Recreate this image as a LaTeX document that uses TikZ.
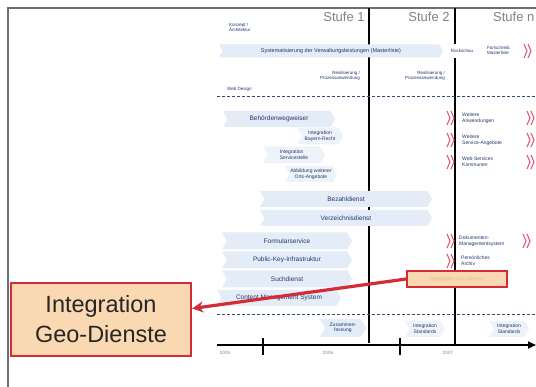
\documentclass[tikz,border=0pt]{standalone}
\usepackage{fontspec}
\setmainfont{Liberation Sans}
\usetikzlibrary{shapes.symbols,arrows.meta}
\definecolor{navy}{RGB}{35,55,110}
\definecolor{bandblue}{RGB}{228,236,247}
\definecolor{faintblue}{RGB}{238,243,250}
\definecolor{redline}{RGB}{210,45,55}
\definecolor{peach}{RGB}{250,217,178}
\definecolor{chevred}{RGB}{225,90,120}
\definecolor{framegray}{RGB}{110,110,110}
\definecolor{stufegray}{RGB}{130,130,130}
\definecolor{dashblue}{RGB}{60,75,115}
\definecolor{faintorange}{RGB}{235,185,130}
\tikzset{
  tx/.style={font=\fontsize{4.5}{5}\selectfont, text=navy, align=center, inner sep=0pt},
  txs/.style={font=\fontsize{5}{5.6}\selectfont, text=navy, align=left, inner sep=0pt},
  band/.style={signal, signal from=west, signal to=east, signal pointer angle=120,
     fill=bandblue, draw=none, text=navy, inner sep=0pt, align=center,
     font=\fontsize{6.5}{7}\selectfont},
  fband/.style={band, fill=faintblue, font=\fontsize{5}{5.6}\selectfont},
  stufe/.style={font=\fontsize{13}{13}\selectfont, text=stufegray, inner sep=0pt},
  vline/.style={line width=2.6pt, black},
  dashline/.style={dashed, dash pattern=on 3pt off 2pt, dashblue, line width=1pt},
  year/.style={font=\fontsize{4.5}{5}\selectfont, text=stufegray, inner sep=0pt},
  redchev/.pic={\draw[chevred, line width=1.1pt] (0,-7) -- (3,0) -- (0,7) (4,-7) -- (7,0) -- (4,7);}
}
\begin{document}
\begin{tikzpicture}[x=1pt,y=-1pt]
\clip (0,0) rectangle (536,387);
\fill[white] (0,0) rectangle (536,387);
% frame
\draw[framegray, line width=1.5pt] (8,387) -- (8,8) -- (536,8);
% headers
\node[stufe] (s1) at (344,17) {Stufe 1};
\node[stufe] (s2) at (429,17) {Stufe 2};
\node[stufe, anchor=west] (sn) at (493,17) {Stufe n};
% vertical stage lines
\coordinate (v1t) at (369,8);
\coordinate (v1b) at (369,343);
\coordinate (v2t) at (455,8);
\coordinate (v2b) at (455,345);
\draw[vline] (v1t) -- (v1b);
\draw[vline] (v2t) -- (v2b);
% dashed separators
\coordinate (d1a) at (217,97); \coordinate (d1b) at (536,97);
\coordinate (d2a) at (217,315); \coordinate (d2b) at (536,315);
\draw[dashline] (d1a) -- (d1b);
\draw[dashline] (d2a) -- (d2b);
% top part
\node[txs, font=\fontsize{4.5}{5}\selectfont, anchor=west] (konz) at (229,27) {Konzept /\\Architektur};
\node[band, minimum width=224pt, minimum height=13pt, font=\fontsize{5.5}{6}\selectfont] (sys) at (331,51) {Systematisierung der Verwaltungsleistungen (Masterliste)};
\node[tx, fill=white, minimum height=14pt, inner xsep=1pt] (rueck) at (462,51) {Rückschau};
\node[txs, font=\fontsize{4.5}{5}\selectfont, anchor=west] (fort) at (487,50) {Fortschreib.\\Masterliste};
\pic at (524,51) {redchev};
\node[tx, align=right] (real1) at (340,76) {Realisierung /\\Prozessanwendung};
\node[tx, align=right] (real2) at (425,76) {Realisierung /\\Prozessanwendung};
\node[txs, font=\fontsize{4.5}{5}\selectfont, anchor=west] (web) at (227,89) {Web Design};
% middle left
\node[band, minimum width=112pt, minimum height=16pt] (behoerde) at (279,119) {Behördenwegweiser};
\node[fband, minimum width=46pt, minimum height=17pt] (bayern) at (320,136) {Integration\\Bayern-Recht};
\node[fband, minimum width=62pt, minimum height=17pt, align=left] (servst) at (294,155) {Integration\\Servicestelle};
\node[fband, minimum width=52pt, minimum height=16pt] (abbild) at (311,174) {Abbildung weiterer\\Orts-Angebote};
\node[band, minimum width=172pt, minimum height=16pt] (bezahl) at (346,199) {Bezahldienst};
\node[band, minimum width=172pt, minimum height=16pt] (verz) at (346,218) {Verzeichnisdienst};
\node[band, minimum width=130pt, minimum height=17pt] (formular) at (287,241) {Formularservice};
\node[band, minimum width=130pt, minimum height=17pt] (pki) at (287,260) {Public-Key-Infrastruktur};
\node[band, minimum width=130pt, minimum height=17pt] (such) at (287,279) {Suchdienst};
\node[band, minimum width=124pt, minimum height=16pt] (cms) at (279,298) {Content Management System};
% right column
\node[txs, anchor=west] (wa) at (462,118) {Weitere\\Anwendungen};
\node[txs, anchor=west] (ws) at (462,140) {Weitere\\Service-Angebote};
\node[txs, anchor=west] (wk) at (462,162) {Web-Services\\Kommunen};
\node[txs, anchor=west] (dms) at (459,241) {Dokumenten-\\Managementsystem};
\node[txs, anchor=west] (arch) at (461,261) {Persönliches\\Archiv};
\pic at (447,118) {redchev};
\pic at (447,140) {redchev};
\pic at (447,162) {redchev};
\pic at (447,241) {redchev};
\pic at (447,261) {redchev};
\pic at (527,118) {redchev};
\pic at (527,140) {redchev};
\pic at (527,162) {redchev};
\pic at (523,241) {redchev};
% bottom row
\node[fband, fill=bandblue, minimum width=46pt, minimum height=18pt] (zus) at (343,328) {Zusammen-\\fassung};
\node[fband, minimum width=40pt, minimum height=16pt] (std1) at (425,329) {Integration\\Standards};
\node[fband, minimum width=40pt, minimum height=16pt] (std2) at (509,329) {Integration\\Standards};
% time axis
\coordinate (axa) at (217,345);
\coordinate (axb) at (536,345);
\draw[line width=1.8pt, -{Triangle[length=8pt,width=7pt]}] (axa) -- (axb);
\coordinate (t1a) at (263,338); \coordinate (t1b) at (263,355);
\coordinate (t2a) at (400,338); \coordinate (t2b) at (400,355);
\draw[line width=1.3pt] (t1a) -- (t1b);
\draw[line width=1.3pt] (t2a) -- (t2b);
\node[year] (y5) at (225,353) {2005};
\node[year] (y6) at (328,353) {2006};
\node[year] (y7) at (448,353) {2007};
% highlighted boxes
\node[draw=redline, line width=1.6pt, fill=peach, minimum width=100pt, minimum height=16pt,
      font=\fontsize{5}{5.5}\selectfont, text=faintorange, inner sep=0pt] (sbox) at (457,279) {Integration Geo-Dienste};
\node[draw=redline, line width=2.4pt, fill=peach, minimum width=180pt, minimum height=73pt,
      align=center, font=\fontsize{23.5}{30}\selectfont, text=black!85, inner sep=0pt] (bigbox) at (101,319.5) {Integration\\Geo-Dienste};
\draw[redline, line width=3.2pt, -{Stealth[length=11pt,width=11pt]}] (sbox.west) -- ([yshift=11pt]bigbox.east);
\end{tikzpicture}
\end{document}
